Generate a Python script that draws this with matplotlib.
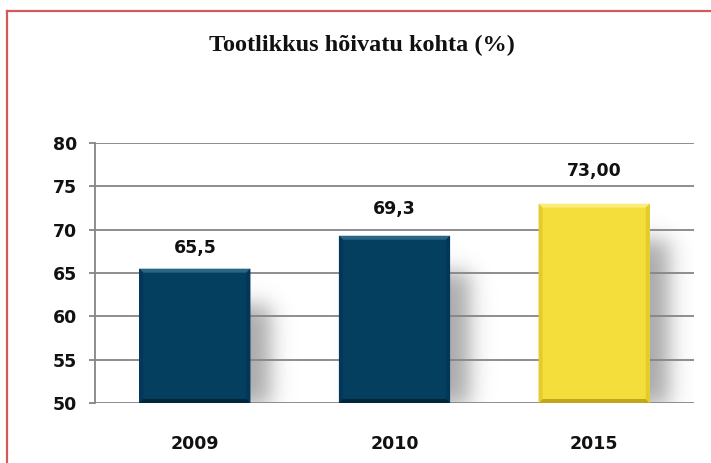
import numpy as np
import matplotlib
matplotlib.use("Agg")
import matplotlib.pyplot as plt
from matplotlib.patches import Polygon
from matplotlib.lines import Line2D

# ---- data ----
title = "Tootlikkus hõivatu kohta (%)"
categories = ["2009", "2010", "2015"]
values = [65.5, 69.3, 73.0]
value_labels = ["65,5", "69,3", "73,00"]
y_ticks = [50, 55, 60, 65, 70, 75, 80]

W, H, DPI = 711, 463, 100
fig = plt.figure(figsize=(W / DPI, H / DPI), dpi=DPI)
fig.patch.set_facecolor("white")

ax = fig.add_axes([95 / W, 1 - 403 / H, (694 - 95) / W, 260 / H])
ax.set_xlim(-0.5, len(categories) - 0.5)
ax.set_ylim(50, 80)

bar_w = 0.557
main_cols = ["#043F5F", "#043F5F", "#F3DE3B"]
top_cols = ["#2A6584", "#2A6584", "#FAEE78"]
side_cols = ["#03375A", "#03375A", "#E3CB2C"]
bot_cols = ["#01263A", "#01263A", "#C2A71C"]
label_offsets_pt = [15.1, 19.4, 23.8]

x = np.arange(len(categories))
ax.bar(x, [v - 50 for v in values], bottom=50, width=bar_w,
       color=main_cols, zorder=3, linewidth=0)

# pixel -> data scales
px_x = (len(categories)) / (694 - 95)
px_y = 30 / 260

# ---- shadow image ----
gx = np.linspace(-0.5, len(categories) - 0.5, 600)
gy = np.linspace(48, 80, 280)
XX, YY = np.meshgrid(gx, gy)
alpha = np.zeros_like(XX)

def S(t):
    return 1.0 / (1.0 + np.exp(-1.7 * t))

for xi, v in zip(x, values):
    x0 = xi - bar_w / 2 + 20 * px_x
    x1 = xi + bar_w / 2 + 20 * px_x
    y0 = 50 - 3 * px_y
    y1 = v - 36 * px_y
    sx = 11 * px_x
    sy = 11 * px_y
    fx = S((XX - x0) / sx) - S((XX - x1) / sx)
    fy = S((YY - y0) / sy) - S((YY - y1) / sy)
    alpha = np.maximum(alpha, fx * fy)

img = np.zeros(XX.shape + (4,))
img[..., 3] = np.clip(alpha, 0, 1) * 0.34
ax.imshow(img, extent=(gx[0], gx[-1], gy[0], gy[-1]), origin="lower",
          aspect="auto", zorder=0.2, interpolation="bilinear")
ax.set_xlim(-0.5, len(categories) - 0.5)
ax.set_ylim(50, 80)

# ---- bevel edges ----
b = 4  # px
for i, (xi, v) in enumerate(zip(x, values)):
    l, r = xi - bar_w / 2, xi + bar_w / 2
    t, btm = v, 50
    dx, dy = b * px_x, b * px_y
    ax.add_patch(Polygon([(l, t), (r, t), (r - dx, t - dy), (l + dx, t - dy)],
                         closed=True, color=top_cols[i], lw=0, zorder=4))
    ax.add_patch(Polygon([(l, btm), (r, btm), (r - dx, btm + dy), (l + dx, btm + dy)],
                         closed=True, color=bot_cols[i], lw=0, zorder=4))
    ax.add_patch(Polygon([(r, t), (r, btm), (r - dx, btm + dy), (r - dx, t - dy)],
                         closed=True, color=side_cols[i], lw=0, zorder=4))
    ax.add_patch(Polygon([(l, t), (l, btm), (l + dx, btm + dy), (l + dx, t - dy)],
                         closed=True, color=side_cols[i], lw=0, zorder=4))
    ax.annotate(value_labels[i], (xi, v), xytext=(0, label_offsets_pt[i]),
                textcoords="offset points",
                ha="center", va="center", fontsize=12.5, fontweight="bold",
                family="DejaVu Sans", color="#111111", zorder=5)

# ---- axes styling ----
ax.set_yticks(y_ticks)
ax.set_yticklabels([str(t) for t in y_ticks])
ax.set_xticks(x)
ax.set_xticklabels(categories)
ax.yaxis.grid(True, color="#858585", linewidth=1.3, zorder=1)
ax.set_axisbelow(True)
for s in ["top", "right", "bottom"]:
    ax.spines[s].set_visible(False)
ax.spines["left"].set_color("#858585")
ax.spines["left"].set_linewidth(1.3)
ax.spines["left"].set_zorder(1)
ax.tick_params(axis="y", length=4.5, width=1.3, color="#858585", pad=8.5,
               labelsize=12.5, labelcolor="#111111")
ax.tick_params(axis="x", length=0, pad=23, labelsize=12.5, labelcolor="#111111")
for lab in ax.get_xticklabels() + ax.get_yticklabels():
    lab.set_fontweight("bold")
    lab.set_family("DejaVu Sans")
ax.set_facecolor("none")

# ---- title ----
fig.text(362 / W, 1 - 45 / H, title, ha="center", va="center",
         fontsize=17.5, fontweight="bold", family="Liberation Serif", color="#111111")

# ---- red frame ----
red = "#D35A5A"
fig.add_artist(Line2D([7 / W, 7 / W], [0, 1 - 11 / H], transform=fig.transFigure,
                      color=red, lw=1.6))
fig.add_artist(Line2D([7 / W, 1], [1 - 11 / H, 1 - 11 / H], transform=fig.transFigure,
                      color=red, lw=1.6))

fig.savefig("out.png", dpi=DPI)
